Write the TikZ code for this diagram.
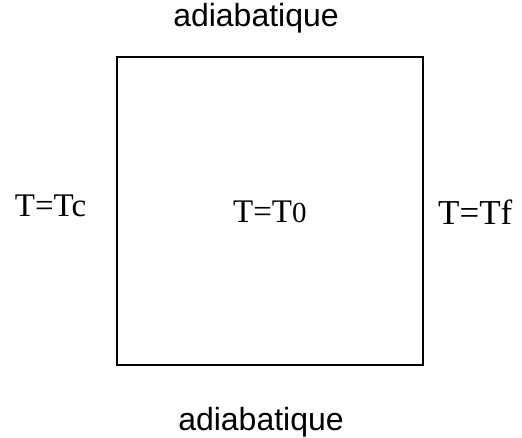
\documentclass[tikz,border=0pt]{standalone}
\usepackage{fontspec}
\setmainfont{Liberation Serif}
\newfontfamily\arialfont{Liberation Sans}
\begin{document}
\begin{tikzpicture}[x=1pt,y=-1pt,
  sanslabel/.style={inner sep=0pt, font=\arialfont\fontsize{32}{36}\selectfont},
  seriflabel/.style={inner sep=0pt, font=\fontsize{33}{38}\selectfont}]
\useasboundingbox (0,0) rectangle (522,438);
\node[draw, line width=2pt, minimum width=306pt, minimum height=308pt, inner sep=0pt] (box) at (269.5,211) {};
\node[sanslabel, anchor=base] (top) at (256,27) {adiabatique};
\node[sanslabel, anchor=base] (bottom) at (261,430) {adiabatique};
\node[seriflabel, anchor=base] (tc) at (50.5,217) {T=Tc};
\node[seriflabel, anchor=base west] (t0) at (233,223) {T=T{\fontsize{29}{34}\selectfont 0}};
\node[seriflabel, anchor=base west, font=\fontsize{35}{40}\selectfont] (tf) at (438,225) {T=Tf};
\end{tikzpicture}
\end{document}
